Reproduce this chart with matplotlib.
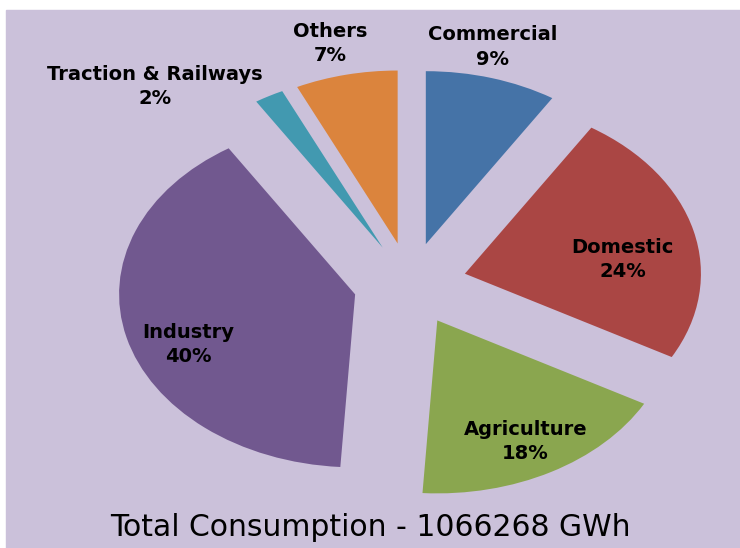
import matplotlib.pyplot as plt
from matplotlib.patches import Rectangle

# data
sectors = ['Commercial', 'Domestic', 'Agriculture', 'Industry',
           'Traction & Railways', 'Others']
shares = [9, 24, 18, 40, 2, 7]
total_gwh = 1066268

colors = ['#4573A7', '#AA4644', '#8AA64F', '#71588F', '#4299B0', '#DB843D']
# label centres in pie units (x, y), unit radius = 1
label_xy = [(0.35, 1.37), (0.90, 0.14), (0.49, -0.91), (-0.94, -0.35),
            (-1.08, 1.14), (-0.34, 1.39)]

fig = plt.figure(figsize=(7.4, 5.48), dpi=100)
fig.patches.append(Rectangle((6 / 740, 0), 734 / 740, 538 / 548,
                             transform=fig.transFigure, color='#CBC1DA',
                             zorder=-10))

ax = fig.add_axes([0, 0, 1, 1])
ax.patch.set_alpha(0)
ax.pie(shares, colors=colors, startangle=90, counterclock=False,
       explode=[0.24] * len(shares), wedgeprops=dict(linewidth=0))
ax.set_aspect('auto')
ax.set_xlim(-1.737, 1.398)
ax.set_ylim(-1.526, 1.642)
ax.axis('off')

for name, pct, (x, y) in zip(sectors, shares, label_xy):
    ax.text(x, y, f'{name}\n{pct}%', ha='center', va='center',
            fontsize=14, fontweight='bold', family='DejaVu Sans',
            linespacing=1.35)

fig.text(0.5, 1 - 528 / 548, f'Total Consumption - {total_gwh} GWh',
         ha='center', va='center', fontsize=21.5, family='DejaVu Sans')

fig.savefig('out.png', dpi=100)
